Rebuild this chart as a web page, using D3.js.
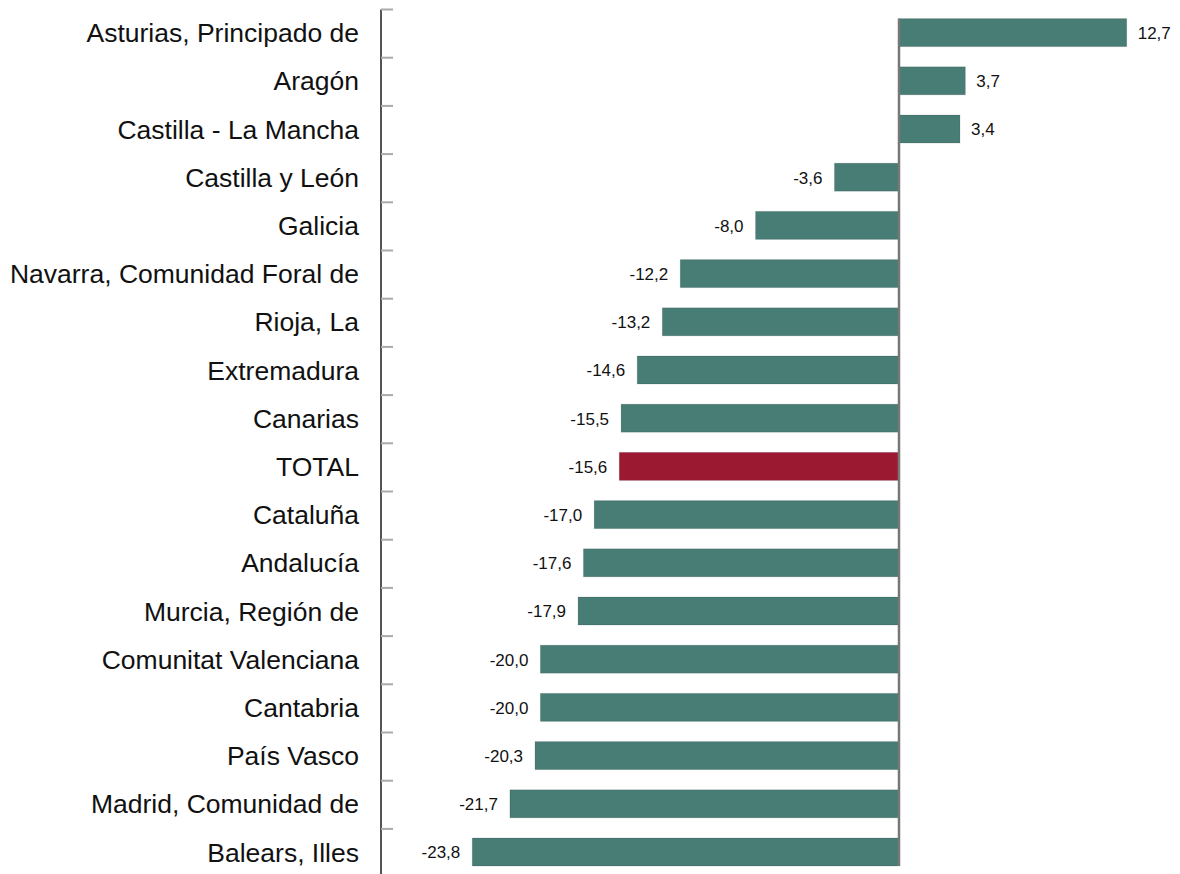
<!DOCTYPE html>
<html>
<head>
<meta charset="utf-8">
<script src="https://cdn.jsdelivr.net/npm/d3@7"></script>
<style>
  html, body { margin: 0; padding: 0; background: #ffffff; }
  svg { display: block; }
</style>
</head>
<body>
<svg id="chart" width="1180" height="874"></svg>
<script>
const categories = [
  "Asturias, Principado de", "Aragón", "Castilla - La Mancha", "Castilla y León",
  "Galicia", "Navarra, Comunidad Foral de", "Rioja, La", "Extremadura", "Canarias",
  "TOTAL", "Cataluña", "Andalucía", "Murcia, Región de", "Comunitat Valenciana",
  "Cantabria", "País Vasco", "Madrid, Comunidad de", "Balears, Illes"
];
const values = [12.7, 3.7, 3.4, -3.6, -8.0, -12.2, -13.2, -14.6, -15.5, -15.6,
  -17.0, -17.6, -17.9, -20.0, -20.0, -20.3, -21.7, -23.8];
const highlight = ["TOTAL"];

const data = categories.map((c, i) => ({ name: c, value: values[i] }));
const svg = d3.select("#chart");

const x = d3.scaleLinear().domain([-25, 15]).range([450.75, 1167.95]);
const y = d3.scaleBand().domain(categories).range([9.5, 9.5 + 18 * 48.2]).paddingInner(0).paddingOuter(0);
const barH = 28;
const barY = d => y(d) + (y.bandwidth() - barH) / 2 - 1;
const fmt = v => d3.format(".1f")(v).replace("\u2212", "-").replace(".", ",");

const axisX = 381;

// left axis line
svg.append("line")
  .attr("x1", axisX).attr("x2", axisX)
  .attr("y1", y.range()[0]).attr("y2", 874)
  .attr("stroke", "#555").attr("stroke-width", 2);

// ticks at band boundaries
svg.append("g").selectAll("line").data(categories).join("line")
  .attr("x1", axisX).attr("x2", axisX + 12)
  .attr("y1", d => y(d)).attr("y2", d => y(d))
  .attr("stroke", "#aaa").attr("stroke-width", 2);

// category labels
svg.append("g").selectAll("text").data(data).join("text")
  .attr("x", 359)
  .attr("y", d => barY(d.name) + barH / 2 + 9.5)
  .attr("text-anchor", "end")
  .attr("font-family", "'Liberation Sans', Arial, sans-serif")
  .attr("font-size", 26.5)
  .attr("fill", "#111")
  .text(d => d.name);

// bars
svg.append("g").selectAll("rect").data(data).join("rect")
  .attr("x", d => Math.min(x(0), x(d.value)))
  .attr("y", d => barY(d.name))
  .attr("width", d => Math.abs(x(d.value) - x(0)))
  .attr("height", barH)
  .attr("fill", d => highlight.includes(d.name) ? "#9c1932" : "#477d75")
  .attr("stroke", "rgba(0,0,0,0.12)")
  .attr("stroke-width", 1);

// zero line
svg.append("line")
  .attr("x1", x(0)).attr("x2", x(0))
  .attr("y1", barY(categories[0]))
  .attr("y2", barY(categories[categories.length - 1]) + barH)
  .attr("stroke", "#777").attr("stroke-width", 2.5);

// value labels
svg.append("g").selectAll("text").data(data).join("text")
  .attr("x", d => d.value >= 0 ? x(d.value) + 11 : x(d.value) - 12)
  .attr("y", d => barY(d.name) + barH / 2 + 6.3)
  .attr("text-anchor", d => d.value >= 0 ? "start" : "end")
  .attr("font-family", "'Liberation Sans', Arial, sans-serif")
  .attr("font-size", 17)
  .attr("fill", "#111")
  .text(d => fmt(d.value));
</script>
</body>
</html>
